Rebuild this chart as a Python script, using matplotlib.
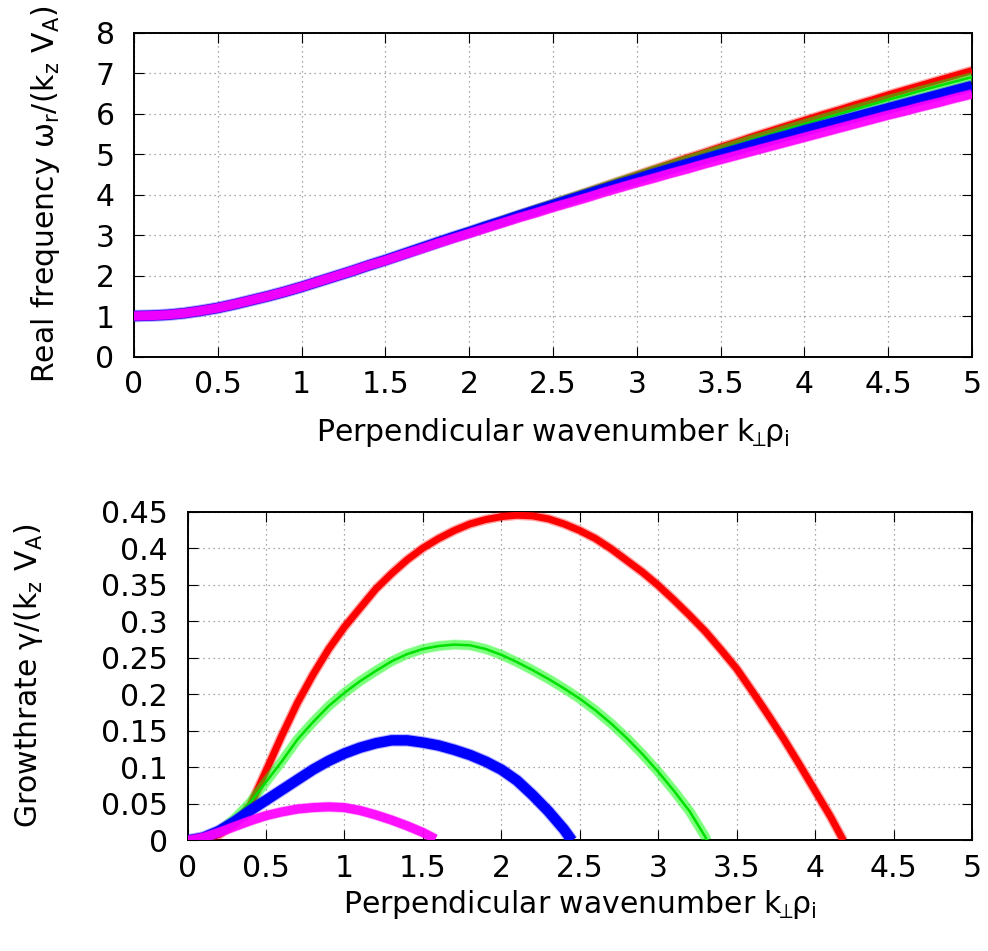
import matplotlib
matplotlib.use("Agg")
import matplotlib.pyplot as plt

plt.rcParams["font.family"] = ["DejaVu Sans"]
plt.rcParams["mathtext.fontset"] = "dejavusans"
plt.rcParams["mathtext.default"] = "regular"

# ---------------- real frequency (top panel) ----------------
k_top = [0.0, 0.1, 0.2, 0.3, 0.4, 0.5, 0.6, 0.7, 0.8, 0.9,
         1.0, 1.1, 1.2, 1.3, 1.4, 1.5, 1.6, 1.7, 1.8, 1.9,
         2.0, 2.1, 2.2, 2.3, 2.4, 2.5, 2.6, 2.7, 2.8, 2.9,
         3.0, 3.1, 3.2, 3.3, 3.4, 3.5, 3.6, 3.7, 3.8, 3.9,
         4.0, 4.1, 4.2, 4.3, 4.4, 4.5, 4.6, 4.7, 4.8, 4.9, 5.0]

wr_red = [1.00, 1.01, 1.03, 1.07, 1.13, 1.20, 1.29, 1.39, 1.49, 1.60,
          1.72, 1.85, 1.98, 2.11, 2.25, 2.38, 2.52, 2.66, 2.80, 2.94,
          3.08, 3.22, 3.36, 3.50, 3.64, 3.78, 3.92, 4.06, 4.20, 4.34,
          4.48, 4.62, 4.76, 4.90, 5.03, 5.17, 5.30, 5.44, 5.57, 5.70,
          5.83, 5.96, 6.08, 6.21, 6.33, 6.46, 6.58, 6.70, 6.82, 6.94, 7.06]

wr_green = [1.00, 1.01, 1.03, 1.07, 1.13, 1.20, 1.29, 1.39, 1.49, 1.60,
            1.72, 1.85, 1.98, 2.11, 2.25, 2.38, 2.52, 2.66, 2.80, 2.94,
            3.08, 3.22, 3.36, 3.49, 3.63, 3.77, 3.91, 4.04, 4.18, 4.32,
            4.45, 4.59, 4.72, 4.85, 4.98, 5.11, 5.24, 5.37, 5.49, 5.62,
            5.74, 5.86, 5.98, 6.10, 6.22, 6.34, 6.45, 6.57, 6.68, 6.79, 6.90]

wr_blue = [1.00, 1.01, 1.03, 1.07, 1.13, 1.20, 1.29, 1.39, 1.49, 1.60,
           1.72, 1.85, 1.98, 2.11, 2.25, 2.38, 2.52, 2.66, 2.80, 2.94,
           3.07, 3.21, 3.34, 3.48, 3.61, 3.74, 3.87, 4.00, 4.13, 4.26,
           4.38, 4.51, 4.63, 4.75, 4.87, 4.99, 5.11, 5.23, 5.35, 5.46,
           5.58, 5.69, 5.80, 5.91, 6.02, 6.13, 6.24, 6.35, 6.46, 6.57, 6.68]

wr_magenta = [1.00, 1.01, 1.03, 1.07, 1.13, 1.20, 1.29, 1.39, 1.49, 1.60,
              1.72, 1.85, 1.98, 2.11, 2.25, 2.37, 2.51, 2.64, 2.78, 2.91,
              3.04, 3.17, 3.30, 3.43, 3.55, 3.68, 3.80, 3.92, 4.05, 4.17,
              4.29, 4.40, 4.52, 4.63, 4.75, 4.86, 4.97, 5.08, 5.19, 5.30,
              5.41, 5.52, 5.63, 5.74, 5.85, 5.96, 6.06, 6.17, 6.27, 6.38, 6.48]

# ---------------- growth rate (bottom panel) ----------------
k_red = [0.0, 0.1, 0.2, 0.3, 0.4, 0.5, 0.6, 0.7, 0.8, 0.9,
         1.0, 1.1, 1.2, 1.3, 1.4, 1.5, 1.6, 1.7, 1.8, 1.9,
         2.0, 2.1, 2.2, 2.3, 2.4, 2.5, 2.6, 2.7, 2.8, 2.9,
         3.0, 3.1, 3.2, 3.3, 3.4, 3.5, 3.6, 3.7, 3.8, 3.9,
         4.0, 4.1, 4.18]
g_red = [0.000, 0.002, 0.008, 0.022, 0.048, 0.095, 0.143, 0.188, 0.227, 0.262,
         0.292, 0.318, 0.344, 0.365, 0.384, 0.400, 0.413, 0.424, 0.433, 0.439,
         0.443, 0.445, 0.444, 0.440, 0.433, 0.424, 0.413, 0.399, 0.383, 0.367,
         0.349, 0.329, 0.308, 0.286, 0.261, 0.235, 0.204, 0.172, 0.139, 0.104,
         0.068, 0.032, 0.000]

k_green = [0.0, 0.1, 0.2, 0.3, 0.4, 0.5, 0.6, 0.7, 0.8, 0.9,
           1.0, 1.1, 1.2, 1.3, 1.4, 1.5, 1.6, 1.7, 1.8, 1.9,
           2.0, 2.1, 2.2, 2.3, 2.4, 2.5, 2.6, 2.7, 2.8, 2.9,
           3.0, 3.1, 3.2, 3.3, 3.31]
g_green = [0.000, 0.003, 0.012, 0.030, 0.052, 0.080, 0.108, 0.138, 0.162, 0.184,
           0.202, 0.218, 0.232, 0.245, 0.255, 0.262, 0.266, 0.268, 0.267, 0.262,
           0.254, 0.244, 0.233, 0.221, 0.208, 0.194, 0.178, 0.160, 0.140, 0.118,
           0.094, 0.068, 0.040, 0.005, 0.000]

k_blue = [0.0, 0.1, 0.2, 0.3, 0.4, 0.5, 0.6, 0.7, 0.8, 0.9,
          1.0, 1.1, 1.2, 1.3, 1.4, 1.5, 1.6, 1.7, 1.8, 1.9,
          2.0, 2.1, 2.2, 2.3, 2.4, 2.45]
g_blue = [0.000, 0.004, 0.013, 0.026, 0.041, 0.055, 0.069, 0.083, 0.097, 0.109,
          0.119, 0.127, 0.133, 0.137, 0.137, 0.134, 0.130, 0.124, 0.117, 0.108,
          0.097, 0.082, 0.062, 0.040, 0.015, 0.000]

k_magenta = [0.0, 0.1, 0.2, 0.3, 0.4, 0.5, 0.6, 0.7, 0.8, 0.9,
             1.0, 1.1, 1.2, 1.3, 1.4, 1.5, 1.58]
g_magenta = [0.000, 0.004, 0.011, 0.019, 0.027, 0.034, 0.039, 0.043, 0.045, 0.046,
             0.045, 0.041, 0.035, 0.028, 0.020, 0.011, 0.002]

x_ticks = [0, 0.5, 1, 1.5, 2, 2.5, 3, 3.5, 4, 4.5, 5]
x_tick_labels = ["0", "0.5", "1", "1.5", "2", "2.5", "3", "3.5", "4", "4.5", "5"]
wr_ticks = [0, 1, 2, 3, 4, 5, 6, 7, 8]
wr_tick_labels = ["0", "1", "2", "3", "4", "5", "6", "7", "8"]
g_ticks = [0, 0.05, 0.1, 0.15, 0.2, 0.25, 0.3, 0.35, 0.4, 0.45]
g_tick_labels = ["0", "0.05", "0.1", "0.15", "0.2", "0.25", "0.3", "0.35", "0.4", "0.45"]

xlabel = r"Perpendicular wavenumber $k_{\!\!\perp\!\!}\rho_{i}$"
FS = 21.5

# band style per series: colour, core width, halo width, halo alpha
styles = {
    "red": dict(color="#ff0000", lw=5.0, halo=7.0, halo_alpha=0.35, core_alpha=1.0),
    "green": dict(color="#00ff00", lw=6.5, halo=7.5, halo_alpha=0.25, core_alpha=0.35),
    "blue": dict(color="#0000ff", lw=7.5, halo=9.0, halo_alpha=0.3, core_alpha=1.0),
    "magenta": dict(color="#ff00ff", lw=6.5, halo=7.5, halo_alpha=0.35, core_alpha=0.9),
}


def draw_band(ax, x, y, name):
    s = styles[name]
    ax.plot(x, y, color=s["color"], lw=s["halo"], alpha=s["halo_alpha"],
            solid_capstyle="butt", solid_joinstyle="round", zorder=3)
    ax.plot(x, y, color=s["color"], lw=s["lw"], alpha=s["core_alpha"],
            solid_capstyle="butt", solid_joinstyle="round", zorder=3)
    if name == "green":
        ax.plot(x, y, color="#00e000", lw=1.8, zorder=3)


def style_axes(ax):
    for sp in ax.spines.values():
        sp.set_linewidth(1.4)
        sp.set_color("black")
    ax.tick_params(direction="in", length=7, width=0.8, top=True, right=True,
                   labelsize=FS, colors="black")
    ax.tick_params(axis="x", pad=10)
    ax.tick_params(axis="y", pad=14)
    ax.grid(True, ls=(0, (1, 3)), color="#8c8c8c", lw=0.9, zorder=0)
    ax.set_axisbelow(True)


fig = plt.figure(figsize=(9.88, 9.51), dpi=100)

# top: real frequency
ax1 = fig.add_axes([0.1356, 0.6251, 0.8482, 0.3407])
draw_band(ax1, k_top, wr_red, "red")
draw_band(ax1, k_top, wr_green, "green")
draw_band(ax1, k_top, wr_blue, "blue")
draw_band(ax1, k_top, wr_magenta, "magenta")
ax1.set_xlim(0, 5)
ax1.set_ylim(0, 8)
ax1.set_xticks(x_ticks)
ax1.set_xticklabels(x_tick_labels)
ax1.set_yticks(wr_ticks)
ax1.set_yticklabels(wr_tick_labels)
style_axes(ax1)
ax1.set_xlabel(xlabel, fontsize=FS, va="center")
ax1.xaxis.set_label_coords(0.5, -0.233)
ax1.set_ylabel(r"Real frequency $\omega_r$/(k$_z$ V$_A$)", fontsize=FS, va="center")
ax1.yaxis.set_label_coords(-0.106, 0.5)

# bottom: growth rate
ax2 = fig.add_axes([0.1898, 0.1162, 0.7940, 0.3459])
draw_band(ax2, k_red, g_red, "red")
draw_band(ax2, k_green, g_green, "green")
draw_band(ax2, k_blue, g_blue, "blue")
draw_band(ax2, k_magenta, g_magenta, "magenta")
ax2.set_xlim(0, 5)
ax2.set_ylim(0, 0.45)
ax2.set_xticks(x_ticks)
ax2.set_xticklabels(x_tick_labels)
ax2.set_yticks(g_ticks)
ax2.set_yticklabels(g_tick_labels)
style_axes(ax2)
ax2.set_xlabel(xlabel, fontsize=FS, va="center")
ax2.xaxis.set_label_coords(0.5, -0.196)
ax2.set_ylabel(r"Growthrate $\gamma$/(k$_z$ V$_A$)", fontsize=FS, va="center")
ax2.yaxis.set_label_coords(-0.203, 0.5)

fig.savefig("out.png", dpi=100)
